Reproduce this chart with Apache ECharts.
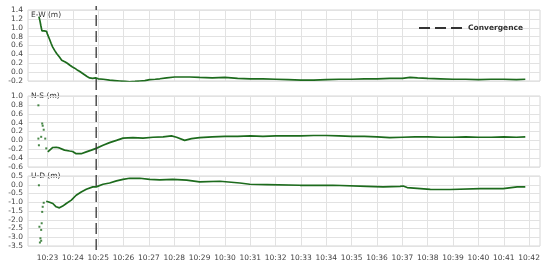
<!DOCTYPE html>
<html>
<head>
<meta charset="utf-8">
<script src="https://cdn.jsdelivr.net/npm/echarts@6/dist/echarts.min.js"></script>
<style>
    html, body { margin: 0; background: #fff; }
    #chart { width: 550px; height: 270px; }
</style>
</head>
<body>
<div id="chart"></div>
<script>
// time is minutes after 10:00
var minuteTicks = [23, 24, 25, 26, 27, 28, 29, 30, 31, 32, 33, 34, 35, 36, 37, 38, 39, 40, 41, 42];
var X_MIN = 22.23;
var X_MAX = 42.43;

var convergenceTime = 24.92;

// E-W error (m)
var ewLine = [
    [22.66, 1.25], [22.70, 1.16], [22.74, 1.04], [22.78, 0.93], [22.82, 0.90], [22.87, 0.93],
    [22.92, 0.96], [22.96, 0.92], [23.00, 0.85], [23.08, 0.74], [23.14, 0.65], [23.20, 0.57],
    [23.28, 0.49], [23.36, 0.42], [23.47, 0.34], [23.56, 0.27], [23.62, 0.23], [23.70, 0.23],
    [23.78, 0.20], [23.87, 0.16], [23.97, 0.12], [24.07, 0.09], [24.17, 0.05], [24.26, 0.02],
    [24.36, -0.02], [24.46, -0.06], [24.56, -0.10], [24.66, -0.13], [24.78, -0.14], [24.90, -0.13],
    [25.00, -0.15], [25.20, -0.16], [25.45, -0.18], [25.65, -0.19], [25.85, -0.20], [26.05, -0.21],
    [26.24, -0.22], [26.45, -0.21], [26.64, -0.20], [26.84, -0.19], [27.03, -0.17], [27.25, -0.16],
    [27.43, -0.15], [27.70, -0.13], [28.02, -0.11], [28.30, -0.11], [28.61, -0.11], [29.00, -0.12],
    [29.50, -0.13], [30.00, -0.12], [30.50, -0.14], [31.00, -0.15], [31.50, -0.15], [32.00, -0.16],
    [32.50, -0.17], [33.00, -0.18], [33.50, -0.18], [34.00, -0.17], [34.50, -0.16], [35.00, -0.16],
    [35.50, -0.15], [36.00, -0.15], [36.50, -0.14], [37.00, -0.14], [37.30, -0.12], [37.60, -0.13],
    [38.00, -0.14], [38.50, -0.15], [39.00, -0.16], [39.50, -0.16], [40.00, -0.17], [40.50, -0.16],
    [41.00, -0.16], [41.50, -0.17], [41.85, -0.16]
];

// N-S error (m)
var nsDots = [
    [22.64, 0.79], [22.64, 0.04], [22.66, -0.11], [22.75, 0.08], [22.79, 0.38],
    [22.81, 0.33], [22.85, 0.24], [22.91, 0.04], [22.95, -0.18]
];
var nsLine = [
    [23.01, -0.26], [23.08, -0.22], [23.21, -0.16], [23.34, -0.155], [23.47, -0.17], [23.67, -0.22],
    [23.87, -0.24], [23.99, -0.25], [24.13, -0.30], [24.33, -0.30], [24.53, -0.26], [24.73, -0.22],
    [24.92, -0.18], [25.19, -0.11], [25.45, -0.05], [25.72, 0.00], [25.98, 0.05], [26.37, 0.06],
    [26.77, 0.05], [27.16, 0.07], [27.56, 0.08], [27.89, 0.10], [28.09, 0.07], [28.41, 0.00],
    [28.68, 0.04], [29.00, 0.06], [29.50, 0.08], [30.00, 0.09], [30.50, 0.09], [31.00, 0.10],
    [31.50, 0.09], [32.00, 0.10], [32.50, 0.10], [33.00, 0.10], [33.50, 0.11], [34.00, 0.11],
    [34.50, 0.10], [35.00, 0.09], [35.50, 0.09], [36.00, 0.08], [36.50, 0.06], [37.00, 0.07],
    [37.50, 0.08], [38.00, 0.08], [38.50, 0.07], [39.00, 0.07], [39.50, 0.08], [40.00, 0.07],
    [40.50, 0.07], [41.00, 0.08], [41.50, 0.07], [41.85, 0.08]
];

// U-D error (m)
var udDots = [
    [22.66, -0.03], [22.68, -2.40], [22.75, -2.58], [22.72, -3.06], [22.70, -3.30],
    [22.75, -3.20], [22.77, -2.20], [22.79, -1.55], [22.81, -1.26], [22.85, -1.03]
];
var udLine = [
    [22.95, -0.94], [23.00, -0.92], [23.08, -1.00], [23.14, -0.95], [23.21, -1.07], [23.34, -1.26],
    [23.47, -1.32], [23.60, -1.22], [23.74, -1.07], [23.94, -0.88], [24.13, -0.60], [24.33, -0.41],
    [24.53, -0.26], [24.79, -0.12], [24.92, -0.12], [25.19, 0.03], [25.45, 0.10], [25.72, 0.22],
    [25.98, 0.31], [26.24, 0.37], [26.64, 0.37], [27.03, 0.31], [27.43, 0.28], [27.94, 0.31],
    [28.49, 0.26], [29.00, 0.16], [29.80, 0.20], [30.59, 0.10], [30.98, 0.03], [31.66, 0.01],
    [32.96, -0.03], [34.26, -0.03], [35.60, -0.09], [36.24, -0.12], [36.91, -0.09], [37.03, -0.07],
    [37.19, -0.16], [38.10, -0.26], [38.89, -0.27], [40.08, -0.22], [40.98, -0.22], [41.53, -0.12],
    [41.85, -0.12]
];

var GREEN = '#1d6b1d';
var FONT = 'DejaVu Sans';

function makeXAxis(gridIndex, showLabels) {
    return {
        type: 'value',
        gridIndex: gridIndex,
        min: X_MIN,
        max: X_MAX,
        axisLine: { show: false },
        axisTick: { show: false, customValues: minuteTicks },
        axisLabel: {
            show: showLabels,
            customValues: minuteTicks,
            margin: 8,
            color: '#444',
            fontFamily: FONT,
            fontSize: 7.5,
            formatter: function(v) { return '10:' + v; }
        },
        splitLine: { show: true, lineStyle: { color: '#e2e2e2', width: 1 } }
    };
}

function makeYAxis(gridIndex, min, max, step) {
    return {
        type: 'value',
        gridIndex: gridIndex,
        min: min,
        max: max,
        interval: step,
        axisLine: { show: false },
        axisTick: { show: false },
        axisLabel: {
            margin: 5,
            color: '#444',
            fontFamily: FONT,
            fontSize: 7.5,
            formatter: function(v) { return v.toFixed(1); }
        },
        splitLine: { lineStyle: { color: '#e2e2e2', width: 1 } }
    };
}

function lineSeries(idx, data) {
    return {
        type: 'line', xAxisIndex: idx, yAxisIndex: idx, data: data,
        showSymbol: false, silent: true,
        lineStyle: { color: GREEN, width: 1.7 }
    };
}

function dotSeries(idx, data) {
    return {
        type: 'scatter', xAxisIndex: idx, yAxisIndex: idx, data: data,
        symbol: 'rect', symbolSize: 2, silent: true,
        itemStyle: { color: GREEN }
    };
}

function panelLabel(text, top) {
    return {
        type: 'text', left: 31, top: top,
        style: { text: text, fill: '#333', font: '7.5px ' + FONT }
    };
}

var chart = echarts.init(document.getElementById('chart'));

var option = {
    animation: false,
    grid: [
        { left: 28, right: 10, top: 10, height: 71, show: true, borderColor: '#d6d6d6' },
        { left: 28, right: 10, top: 96, height: 71, show: true, borderColor: '#d6d6d6' },
        { left: 28, right: 10, top: 176, height: 70, show: true, borderColor: '#d6d6d6' },
        { left: 28, right: 10, top: 6, bottom: 20 }
    ],
    xAxis: [
        makeXAxis(0, false),
        makeXAxis(1, false),
        makeXAxis(2, true),
        { type: 'value', gridIndex: 3, min: X_MIN, max: X_MAX, show: false }
    ],
    yAxis: [
        makeYAxis(0, -0.2, 1.4, 0.2),
        makeYAxis(1, -0.6, 1.0, 0.2),
        makeYAxis(2, -3.5, 0.5, 0.5),
        { type: 'value', gridIndex: 3, min: 0, max: 1, show: false }
    ],
    legend: {
        data: ['Convergence'],
        right: 22,
        top: 19,
        itemWidth: 44,
        itemHeight: 8,
        itemGap: 2,
        itemStyle: { opacity: 0 },
        textStyle: { fontFamily: FONT, fontSize: 7.5, fontWeight: 'bold', color: '#333' }
    },
    graphic: [
        panelLabel('E-W (m)', 11),
        panelLabel('N-S (m)', 92),
        panelLabel('U-D (m)', 172)
    ],
    series: [
        lineSeries(0, ewLine),
        dotSeries(1, nsDots),
        lineSeries(1, nsLine),
        dotSeries(2, udDots),
        lineSeries(2, udLine),
        {
            name: 'Convergence',
            type: 'line', xAxisIndex: 3, yAxisIndex: 3,
            data: [[convergenceTime, 0], [convergenceTime, 1]],
            showSymbol: false, symbol: 'none', silent: true,
            lineStyle: { color: '#333', width: 1.3, type: [11, 5] },
            itemStyle: { color: '#333' }
        }
    ]
};

chart.setOption(option);
</script>
</body>
</html>
